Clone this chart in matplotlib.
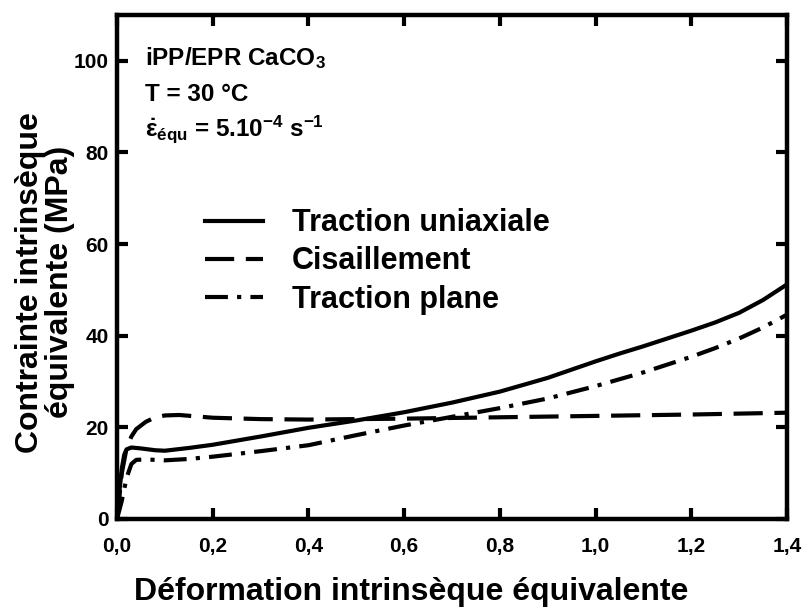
import numpy as np
import matplotlib
matplotlib.use("Agg")
import matplotlib.pyplot as plt

plt.rcParams["font.family"] = ["Liberation Sans", "DejaVu Sans"]
plt.rcParams["font.weight"] = "bold"
plt.rcParams["mathtext.fontset"] = "custom"
plt.rcParams["mathtext.rm"] = "Liberation Sans:bold"
plt.rcParams["mathtext.it"] = "Liberation Sans:bold"
plt.rcParams["mathtext.bf"] = "Liberation Sans:bold"
plt.rcParams["mathtext.default"] = "rm"

# equivalent true strain vs equivalent true stress (MPa)
x_uni = [0, 0.005, 0.01, 0.015, 0.02, 0.03, 0.05, 0.08, 0.1, 0.15, 0.2, 0.3,
         0.4, 0.5, 0.6, 0.7, 0.8, 0.9, 1.0, 1.05, 1.1, 1.15, 1.2, 1.25, 1.3,
         1.35, 1.4]
y_uni = [0, 6, 11, 14, 15.2, 15.6, 15.4, 15.0, 14.9, 15.5, 16.2, 18.0,
         19.9, 21.5, 23.3, 25.4, 27.8, 30.8, 34.4, 36.1, 37.7, 39.4, 41.1, 42.9,
         45.0, 47.8, 51.2]

x_cis = [0, 0.005, 0.01, 0.02, 0.03, 0.04, 0.06, 0.08, 0.1, 0.13, 0.2, 0.3,
         0.4, 0.5, 0.6, 0.8, 1.0, 1.2, 1.4]
y_cis = [0, 5, 10, 15.5, 18.0, 19.6, 21.2, 22.2, 22.6, 22.7, 22.1, 21.8,
         21.7, 21.8, 21.9, 22.2, 22.5, 22.8, 23.2]

x_pla = [0, 0.01, 0.02, 0.03, 0.04, 0.06, 0.1, 0.15, 0.2, 0.3, 0.4, 0.5,
         0.6, 0.7, 0.8, 0.9, 1.0, 1.05, 1.1, 1.15, 1.2, 1.25, 1.3, 1.35, 1.4]
y_pla = [0, 4, 9, 12, 12.9, 13.0, 12.8, 13.1, 13.6, 14.8, 16.1, 18.3,
         20.4, 22.3, 24.2, 26.3, 29.0, 30.5, 32.0, 33.7, 35.4, 37.3, 39.4,
         41.8, 44.6]

labels = ["Traction uniaxiale", "Cisaillement", "Traction plane"]
xticks = [0.0, 0.2, 0.4, 0.6, 0.8, 1.0, 1.2, 1.4]
xticklabels = ["0,0", "0,2", "0,4", "0,6", "0,8", "1,0", "1,2", "1,4"]
yticks = [0, 20, 40, 60, 80, 100]

fig = plt.figure(figsize=(8.06, 6.10), dpi=100)
ax = fig.add_axes([0.1452, 0.1492, 0.8312, 0.8262])

lw = 3.0
ax.plot(x_uni, y_uni, color="black", lw=lw, linestyle="-", label=labels[0])
ax.plot(x_cis, y_cis, color="black", lw=lw, linestyle=(0, (7, 2.8)), label=labels[1])
ax.plot(x_pla, y_pla, color="black", lw=lw, linestyle=(0, (5.5, 2.2, 1, 2.2)), label=labels[2])

ax.set_xlim(0, 1.4)
ax.set_ylim(0, 110)
ax.set_xticks(xticks)
ax.set_xticklabels(xticklabels)
ax.set_yticks(yticks)

for s in ax.spines.values():
    s.set_linewidth(3.2)
ax.tick_params(direction="in", length=8, width=3, top=True, right=True,
               labelsize=15)
ax.tick_params(axis="x", pad=13)
ax.tick_params(axis="y", pad=6)

ax.set_xlabel("Déformation intrinsèque équivalente", fontsize=23,
              fontweight="bold")
ax.xaxis.set_label_coords(0.439, -0.116)
ax.set_ylabel("Contrainte intrinsèque\néquivalente (MPa)", fontsize=23,
              fontweight="bold", linespacing=1.0)
ax.yaxis.set_label_coords(-0.062, 0.47)

ax.text(0.042, 0.915, "iPP/EPR CaCO$_3$", transform=ax.transAxes,
        fontsize=17.5, fontweight="bold", va="center")
ax.text(0.042, 0.843, "T = 30 °C", transform=ax.transAxes,
        fontsize=17.5, fontweight="bold", va="center")
ax.text(0.042, 0.773, r"$\dot{\varepsilon}_{équ}$ = 5.10$^{-4}$ s$^{-1}$",
        transform=ax.transAxes, fontsize=17.5, fontweight="bold", va="center")

ax.legend(loc="center left", bbox_to_anchor=(0.131, 0.511), frameon=False,
          fontsize=22, handlelength=1.9, handletextpad=0.95, labelspacing=0.27,
          borderpad=0, borderaxespad=0)

fig.savefig("out.png", dpi=100)
